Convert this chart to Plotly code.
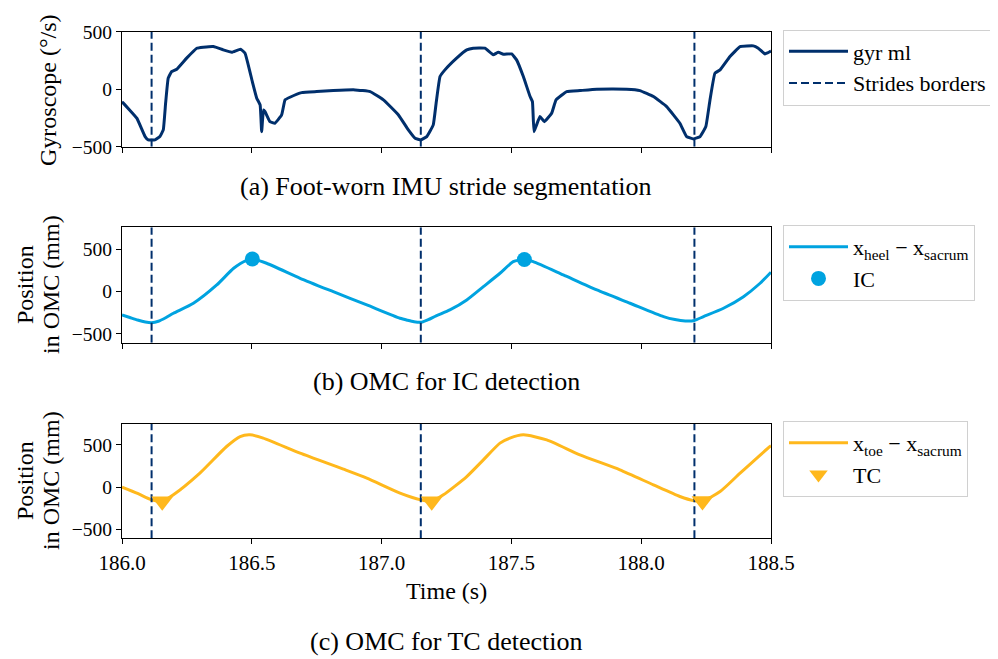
import plotly.graph_objects as go

# ---------------- data ----------------
gyr_t = [186.000, 186.003, 186.057, 186.089, 186.101, 186.127, 186.146, 186.159, 186.168, 186.178,
         186.191, 186.211, 186.249, 186.288, 186.313, 186.352, 186.390, 186.423, 186.457, 186.474,
         186.502, 186.519, 186.532, 186.538, 186.545, 186.551, 186.570, 186.589, 186.615, 186.628,
         186.647, 186.692, 186.750, 186.814, 186.898, 186.956, 187.007, 187.065, 187.103, 187.129,
         187.151, 187.174, 187.199, 187.210, 187.225, 187.244, 187.289, 187.328, 187.353, 187.398,
         187.430, 187.450, 187.469, 187.501, 187.520, 187.546, 187.572, 187.581, 187.587, 187.597,
         187.610, 187.627, 187.655, 187.672, 187.713, 187.764, 187.829, 187.944, 187.995, 188.047,
         188.098, 188.149, 188.175, 188.201, 188.227, 188.249, 188.265, 188.284, 188.304, 188.342,
         188.381, 188.432, 188.451, 188.477, 188.496, 188.500]
gyr_ml = [-110, -116, -252, -412, -441, -441, -412, -354, -122, 96,
          153, 174, 270, 356, 365, 371, 342, 322, 348, 313,
          66, -78, -137, -369, -180, -195, -282, -296, -224, -93,
          -70, -30, -21, -12, -6, -21, -93, -224, -354, -426,
          -441, -412, -310, -122, 110, 168, 270, 342, 357, 357,
          300, 322, 304, 307, 255, 110, -64, -108, -369, -310,
          -238, -282, -209, -93, -21, -12, 0, 0, -12, -64,
          -151, -296, -412, -432, -412, -325, -93, 139, 168, 284,
          371, 377, 357, 307, 327, 330]

heel_t = [186.000, 186.030, 186.060, 186.090, 186.114, 186.140, 186.170, 186.198, 186.275, 186.365,
          186.430, 186.480, 186.502, 186.557, 186.686, 186.814, 186.943, 187.071, 187.100, 187.125,
          187.154, 187.180, 187.210, 187.263, 187.328, 187.392, 187.456, 187.507, 187.550, 187.584,
          187.700, 187.829, 187.957, 188.086, 188.130, 188.170, 188.205, 188.240, 188.317, 188.394,
          188.458, 188.500]
heel_x = [-275, -305, -335, -358, -366, -350, -305, -255, -137, 79,
          276, 370, 385, 335, 158, 0, -157, -314, -338, -355,
          -360, -330, -285, -216, -98, 59, 217, 354, 380, 354,
          197, 20, -137, -295, -330, -346, -340, -295, -196, -59,
          99, 230]

toe_t = [186.000, 186.060, 186.114, 186.155, 186.198, 186.300, 186.403, 186.455, 186.493, 186.544,
         186.686, 186.853, 186.943, 187.071, 187.151, 187.193, 187.238, 187.328, 187.392, 187.456,
         187.494, 187.546, 187.636, 187.764, 187.918, 188.047, 188.149, 188.201, 188.236, 188.304,
         188.381, 188.496, 188.500]
toe_x = [0, -75, -151, -168, -91, 166, 482, 600, 620, 581,
         403, 213, 107, -71, -151, -168, -91, 126, 324, 522,
         581, 620, 561, 383, 205, 27, -111, -159, -165, -52,
         166, 482, 490]

ic_t = [186.502, 187.550]
ic_x = [385, 380]
tc_t = [186.155, 187.193, 188.236]
tc_x = [-168, -168, -165]

stride_borders = [186.114, 187.151, 188.205]

x_range = [186.0, 188.5]
x_ticks = [186.0, 186.5, 187.0, 187.5, 188.0, 188.5]
y_ticks = [-500, 0, 500]
y1_range = [-500, 500]
y2_range = [-603, 760]
y3_range = [-607, 749]

# ---------------- styling ----------------
NAVY = "#002F6C"
LIGHT = "#00A3E0"
YELLOW = "#FFB81C"
FONT = "Liberation Serif"
OFF = 8                      # page body margin of the browser
W, H = 998 - OFF, 659 - OFF

def px_x(x):
    return (x - OFF) / W

def px_y(y):
    return 1 - (y - OFF) / H

fig = go.Figure()

def borders(rng):
    xs, ys = [], []
    for b in stride_borders:
        xs += [b, b, None]
        ys += [rng[0], rng[1], None]
    return xs, ys

DASH = "8px,4px"
# panel a
fig.add_trace(go.Scatter(x=gyr_t, y=gyr_ml, mode="lines", name="gyr ml",
                         line=dict(color=NAVY, width=3, shape="spline", smoothing=0.3),
                         xaxis="x", yaxis="y", legend="legend"))
bx, by = borders(y1_range)
fig.add_trace(go.Scatter(x=bx, y=by, mode="lines", name="Strides borders",
                         line=dict(color=NAVY, width=2, dash=DASH), xaxis="x", yaxis="y",
                         legend="legend"))
# panel b
fig.add_trace(go.Scatter(x=heel_t, y=heel_x, mode="lines",
                         name="x<sub>heel</sub> − x<sub>sacrum</sub>",
                         line=dict(color=LIGHT, width=3, shape="spline", smoothing=0.6),
                         xaxis="x2", yaxis="y2", legend="legend2"))
bx, by = borders(y2_range)
fig.add_trace(go.Scatter(x=bx, y=by, mode="lines", showlegend=False,
                         line=dict(color=NAVY, width=2, dash=DASH), xaxis="x2", yaxis="y2"))
fig.add_trace(go.Scatter(x=ic_t, y=ic_x, mode="markers", name="IC",
                         marker=dict(color=LIGHT, size=15, symbol="circle"),
                         xaxis="x2", yaxis="y2", legend="legend2"))
# panel c
fig.add_trace(go.Scatter(x=toe_t, y=toe_x, mode="lines",
                         name="x<sub>toe</sub> − x<sub>sacrum</sub>",
                         line=dict(color=YELLOW, width=3, shape="spline", smoothing=0.6),
                         xaxis="x3", yaxis="y3", legend="legend3"))
bx, by = borders(y3_range)
fig.add_trace(go.Scatter(x=bx, y=by, mode="lines", showlegend=False,
                         line=dict(color=NAVY, width=2, dash=DASH), xaxis="x3", yaxis="y3"))
fig.add_trace(go.Scatter(x=tc_t, y=tc_x, mode="markers", name="TC",
                         marker=dict(color=YELLOW, size=19, symbol="triangle-down"),
                         xaxis="x3", yaxis="y3", legend="legend3"))

xdom = [px_x(122), px_x(771)]
panels = [(31.7, 146.7, y1_range), (227.3, 342.7, y2_range), (424, 538.3, y3_range)]

common_x = dict(range=x_range, tickvals=x_ticks, ticks="outside", ticklen=5, tickwidth=1.2,
                tickcolor="black", showline=True, linecolor="black", linewidth=1.3, mirror=True,
                showgrid=False, zeroline=False, domain=xdom, automargin=False,
                tickfont=dict(family=FONT, size=21, color="black"))
common_y = dict(tickvals=y_ticks, ticks="outside", ticklen=5, tickwidth=1.2, tickcolor="black",
                showline=True, linecolor="black", linewidth=1.3, mirror=True, showgrid=False,
                zeroline=False, automargin=False,
                tickfont=dict(family=FONT, size=19.5, color="black"))

layout = dict(width=W, height=H, margin=dict(l=0, r=0, t=0, b=0, autoexpand=False),
              paper_bgcolor="white", plot_bgcolor="white",
              font=dict(family=FONT, color="black"))
for i, (top, bot, rng) in enumerate(panels):
    sx = "" if i == 0 else str(i + 1)
    xa = dict(common_x)
    ya = dict(common_y)
    ya.update(range=rng, domain=[px_y(bot), px_y(top)], anchor="x" + sx)
    xa.update(anchor="y" + sx, showticklabels=(i == 2), tickformat=".1f")
    layout["xaxis" + sx] = xa
    layout["yaxis" + sx] = ya

leg_common = dict(font=dict(family=FONT, size=22, color="black"), bgcolor="white",
                  bordercolor="#d0d0d0", borderwidth=1, xanchor="left", yanchor="top",
                  itemwidth=59, tracegroupgap=0)
layout["legend"] = dict(leg_common, x=px_x(783), y=px_y(29.5))
layout["legend2"] = dict(leg_common, x=px_x(783), y=px_y(225))
layout["legend3"] = dict(leg_common, x=px_x(783), y=px_y(421))

ann = []
def label(text, x, y, size=24, angle=-90):
    ann.append(dict(text=text, x=px_x(x), y=px_y(y), xref="paper", yref="paper",
                    showarrow=False, textangle=angle, xanchor="center", yanchor="middle",
                    font=dict(family=FONT, size=size, color="black")))

label("Gyroscope (°/s)", 48, 90)
label("Position", 25, 285)
label("in OMC (mm)", 51, 285)
label("Position", 25, 481)
label("in OMC (mm)", 51, 481)
label("Time (s)", 446, 591, angle=0)
label("(a) Foot-worn IMU stride segmentation", 446, 186, size=26, angle=0)
label("(b) OMC for IC detection", 446, 381, size=26, angle=0)
label("(c) OMC for TC detection", 446, 641, size=26, angle=0)
layout["annotations"] = ann

fig.update_layout(**layout)
fig.write_html("out.html")
